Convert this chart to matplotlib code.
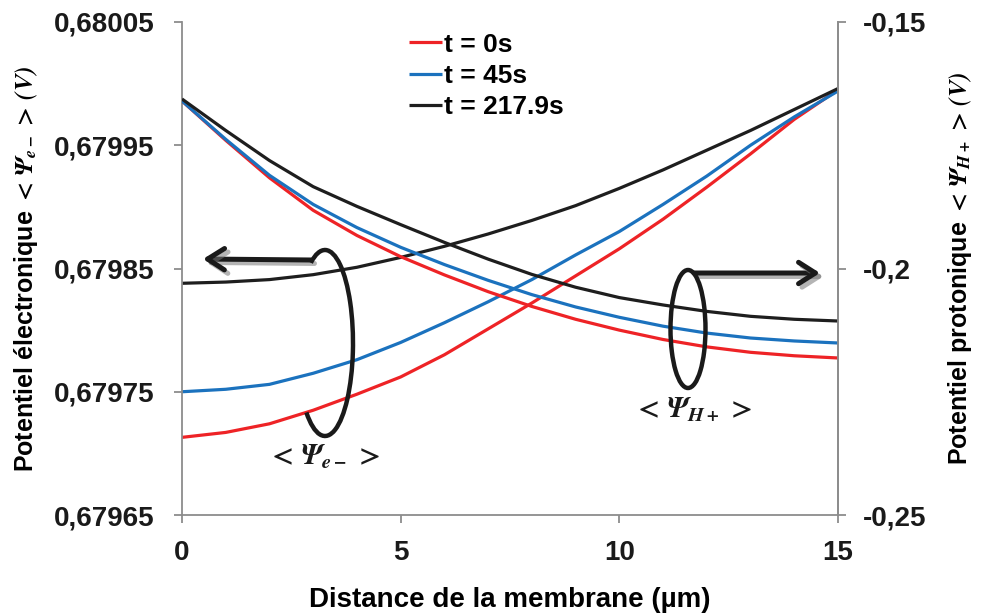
import numpy as np
import matplotlib
matplotlib.use("Agg")
import matplotlib.pyplot as plt
from matplotlib.patches import Arc
import matplotlib.patheffects as pe

# ---------------- data ----------------
x_um = [0, 1, 2, 3, 4, 5, 6, 7, 8, 9, 10, 11, 12, 13, 14, 15]

# electronic potential (left axis), V
psi_e_t0 = [0.679713, 0.679717, 0.679724, 0.679735, 0.679748, 0.679762, 0.679780, 0.679801,
            0.679822, 0.679844, 0.679866, 0.679890, 0.679916, 0.679943, 0.679971, 0.679995]
psi_e_t45 = [0.679750, 0.679752, 0.679756, 0.679765, 0.679776, 0.679790, 0.679806, 0.679823,
             0.679841, 0.679861, 0.679880, 0.679902, 0.679925, 0.679950, 0.679973, 0.679994]
psi_e_t218 = [0.679838, 0.679839, 0.679841, 0.679845, 0.679851, 0.679859, 0.679868, 0.679878,
              0.679889, 0.679901, 0.679915, 0.679930, 0.679946, 0.679962, 0.679979, 0.679996]

# protonic potential (right axis), V
psi_h_t0 = [-0.16602, -0.17400, -0.18160, -0.18820, -0.19330, -0.19760, -0.20130, -0.20470,
            -0.20770, -0.21030, -0.21250, -0.21440, -0.21590, -0.21700, -0.21770, -0.21815]
psi_h_t45 = [-0.16602, -0.17380, -0.18110, -0.18700, -0.19170, -0.19570, -0.19920, -0.20240,
             -0.20530, -0.20780, -0.20990, -0.21170, -0.21310, -0.21410, -0.21470, -0.21511]
psi_h_t218 = [-0.16562, -0.17200, -0.17810, -0.18340, -0.18740, -0.19110, -0.19470, -0.19810,
              -0.20120, -0.20380, -0.20590, -0.20740, -0.20870, -0.20970, -0.21030, -0.21065]

series_labels = ["t = 0s", "t = 45s", "t = 217.9s"]
colors = ["#EE2326", "#1B72BE", "#1E1E1E"]

left_ticks = [0.67965, 0.67975, 0.67985, 0.67995, 0.68005]
left_ticklabels = ["0,67965", "0,67975", "0,67985", "0,67995", "0,68005"]
right_ticks = [-0.25, -0.2, -0.15]
right_ticklabels = ["-0,25", "-0,2", "-0,15"]
x_ticks = [0, 5, 10, 15]
x_ticklabels = ["0", "5", "10", "15"]

# ---------------- style ----------------
plt.rcParams['font.family'] = ['Liberation Sans', 'DejaVu Sans']
plt.rcParams['font.weight'] = 'bold'
plt.rcParams['mathtext.fontset'] = 'stix'

W, H = 983, 614
fig = plt.figure(figsize=(W / 100, H / 100), dpi=100)
ax = fig.add_axes([182 / W, (H - 515) / H, 656 / W, 493 / H])
ax2 = ax.twinx()

lw = 2.3
lines = []
for ys, c, lab in zip([psi_e_t0, psi_e_t45, psi_e_t218], colors, series_labels):
    ln, = ax.plot(x_um, ys, color=c, lw=lw, label=lab, solid_capstyle='butt')
    lines.append(ln)
for ys, c in zip([psi_h_t0, psi_h_t45, psi_h_t218], colors):
    ax2.plot(x_um, ys, color=c, lw=lw, solid_capstyle='butt')

ax.set_xlim(0, 15)
ax.set_ylim(0.67965, 0.68005)
ax2.set_ylim(-0.25, -0.15)
ax.set_xticks(x_ticks)
ax.set_xticklabels(x_ticklabels)
ax.set_yticks(left_ticks)
ax.set_yticklabels(left_ticklabels)
ax2.set_yticks(right_ticks)
ax2.set_yticklabels(right_ticklabels)

gray = "#8C8C8C"
for a in (ax, ax2):
    a.spines['top'].set_visible(False)
    for s in a.spines.values():
        s.set_color(gray)
        s.set_linewidth(1.3)
    a.tick_params(colors=gray, width=1.3, length=6, labelsize=20, labelcolor="#1A1A1A")
ax2.spines['left'].set_visible(False)
ax2.spines['bottom'].set_visible(False)
ax.tick_params(axis='x', pad=12)
ax.tick_params(axis='y', pad=14)
ax2.tick_params(axis='y', pad=12)

ax.set_xlabel("Distance de la membrane (µm)", fontsize=20, fontweight='bold', labelpad=15)
ax.set_ylabel(r"Potentiel électronique $<\,\mathbfit{\Psi}_{\mathbfit{e-}}\,>\,\mathbfit{(V)}$",
              fontsize=18, fontweight='bold', labelpad=10)
ax2.set_ylabel(r"Potentiel protonique $<\,\mathbfit{\Psi}_{\mathbfit{H+}}\,>\,\mathbfit{(V)}$",
               fontsize=18, fontweight='bold', labelpad=14)

leg = ax.legend(handles=lines, loc='upper left', bbox_to_anchor=((398 - 182) / 656, 1.0),
                frameon=False, fontsize=19, handlelength=1.25, handletextpad=0.1,
                labelspacing=0.28, borderaxespad=0)
for t in leg.get_texts():
    t.set_fontweight('bold')

# ---------------- annotations (figure pixel coordinates) ----------------
tr = fig.dpi_scale_trans


def P(px, py):
    return (px / 100, (H - py) / 100)


ink = "#1A1A1A"
shadow = [pe.SimpleLineShadow(offset=(2.5, -2.5), shadow_color='#777777', alpha=0.55), pe.Normal()]

arc1 = Arc(P(325, 343), 0.56, 1.86, theta1=-105, theta2=100, transform=tr,
           color=ink, lw=3.2, zorder=10)
fig.add_artist(arc1)
ann1 = ax.annotate("", xy=P(203, 259), xytext=P(311, 260), xycoords=tr, textcoords=tr,
                   arrowprops=dict(arrowstyle="->,head_length=0.55,head_width=0.35",
                                   color=ink, lw=3.6, mutation_scale=22,
                                   shrinkA=0, shrinkB=0),
                   annotation_clip=False)
ann1.arrow_patch.set_path_effects(shadow)

arc2 = Arc(P(688, 329), 0.35, 1.18, theta1=0, theta2=360, transform=tr,
           color=ink, lw=3.2, zorder=10)
fig.add_artist(arc2)
ann2 = ax.annotate("", xy=P(820, 273), xytext=P(694, 273), xycoords=tr, textcoords=tr,
                   arrowprops=dict(arrowstyle="->,head_length=0.55,head_width=0.35",
                                   color=ink, lw=3.6, mutation_scale=22,
                                   shrinkA=0, shrinkB=0),
                   annotation_clip=False)
ann2.arrow_patch.set_path_effects(shadow)

fig.text(*P(324, 457), r"$<\,\mathbfit{\Psi}_{\mathbfit{e-}}\,>$", transform=tr,
         fontsize=21, ha='center', va='center', color=ink)
fig.text(*P(693, 410), r"$<\,\mathbfit{\Psi}_{\mathbfit{H+}}\,>$", transform=tr,
         fontsize=21, ha='center', va='center', color=ink)

fig.savefig("out.png", dpi=100)
